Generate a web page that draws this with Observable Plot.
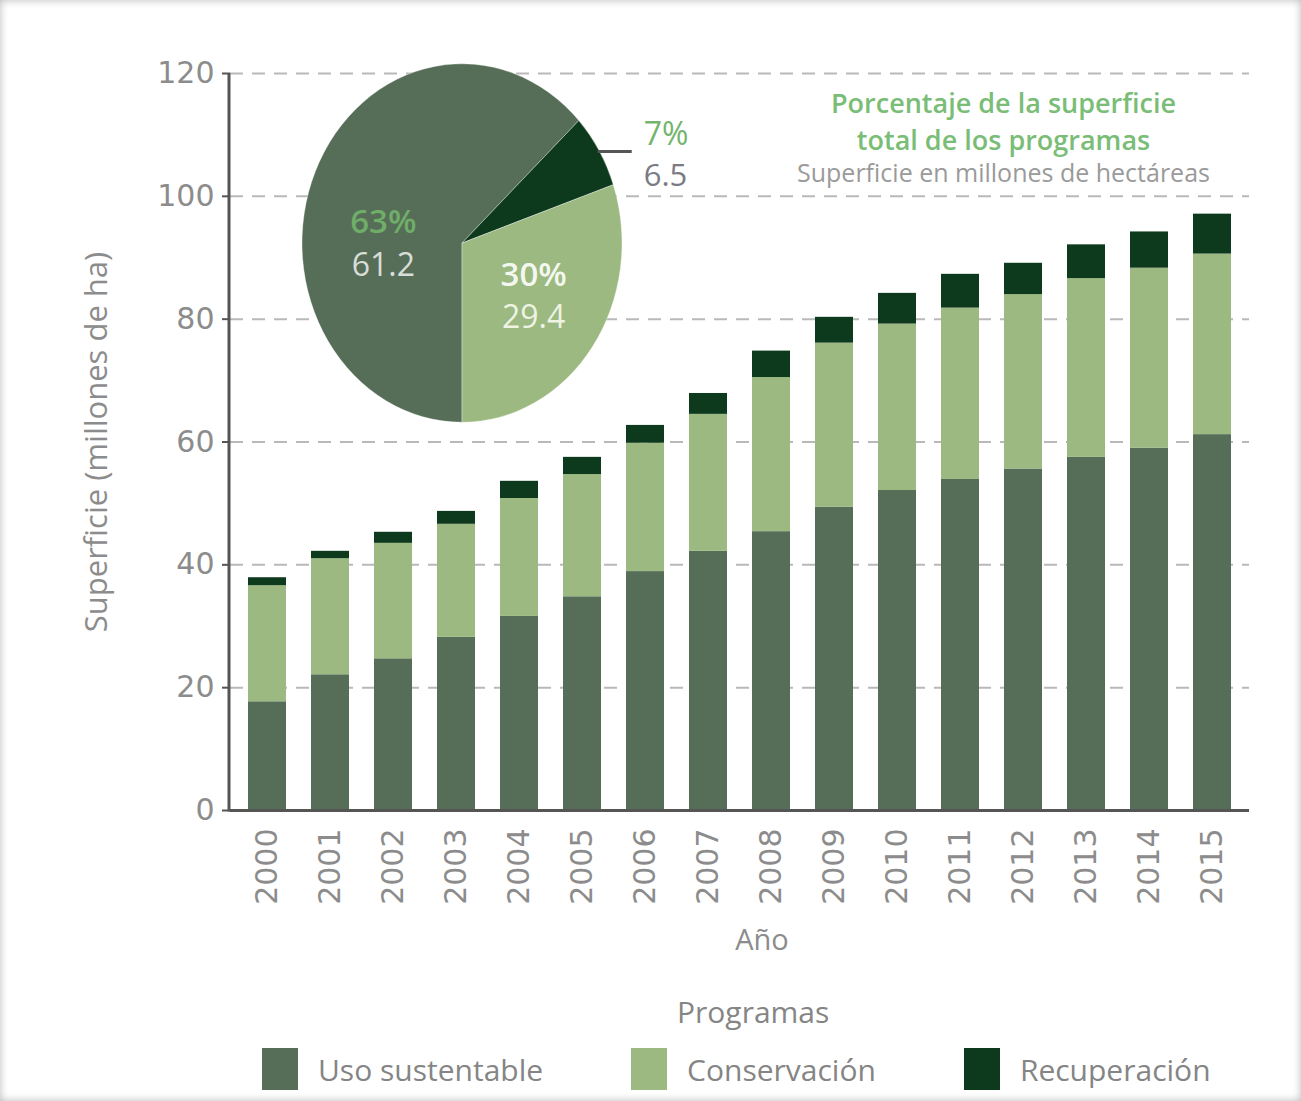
<!DOCTYPE html>
<html>
<head>
<meta charset="utf-8">
<script src="https://cdn.jsdelivr.net/npm/d3@7"></script>
<script src="https://cdn.jsdelivr.net/npm/@observablehq/plot@0.6"></script>
<style>
  html, body { margin: 0; padding: 0; background: #fff; }
  #wrap {
    position: relative; width: 1301px; height: 1101px; overflow: hidden;
    font-family: "Open Sans", sans-serif;
    box-shadow: inset 0 0 9px rgba(0,0,0,0.28);
  }
  #chart { position: absolute; left: 0; top: 0; }
  #legend-title {
    position: absolute; left: 677px; top: 990px;
    font-size: 30px; color: #858585; line-height: 44px;
  }
  #legend {
    position: absolute; left: 262px; top: 1048px; display: flex; gap: 88px;
    align-items: center;
  }
  .item { display: flex; align-items: center; gap: 20px; font-size: 30px; color: #858585; }
  .sw { width: 36px; height: 42px; display: inline-block; }
</style>
</head>
<body>
<div id="wrap">
  <div id="chart"></div>
  <div id="legend-title"></div>
  <div id="legend"></div>
</div>
<script>
// ---- data ----
const years = ["2000","2001","2002","2003","2004","2005","2006","2007","2008","2009","2010","2011","2012","2013","2014","2015"];
const usoSustentable = [17.7, 22.1, 24.7, 28.2, 31.6, 34.8, 38.9, 42.2, 45.4, 49.4, 52.1, 53.9, 55.6, 57.5, 59.0, 61.2];
const conservacion   = [18.9, 18.9, 18.8, 18.4, 19.2, 19.9, 20.9, 22.3, 25.1, 26.7, 27.1, 27.9, 28.4, 29.1, 29.3, 29.4];
const recuperacion   = [1.3, 1.2, 1.8, 2.1, 2.8, 2.8, 2.9, 3.4, 4.3, 4.2, 5.0, 5.5, 5.1, 5.5, 5.9, 6.5];
const programas = ["Uso sustentable", "Conservación", "Recuperación"];
const colores = ["#566d57", "#9bb980", "#0d3a1d"];
const yTicks = [0, 20, 40, 60, 80, 100, 120];
// pie (2015 totals)
const piePrograma = ["Uso sustentable", "Recuperación", "Conservación"];
const pieValor = [61.2, 6.5, 29.4];
const piePorcentaje = ["63%", "7%", "30%"];
const pieTitulo = ["Porcentaje de la superficie", "total de los programas"];
const pieSubtitulo = "Superficie en millones de hectáreas";
const legendTitle = "Programas";

// ---- tidy table ----
const series = [usoSustentable, conservacion, recuperacion];
const table = years.flatMap((yr, i) => programas.map((p, k) => ({year: yr, programa: p, value: series[k][i]})));
const pieData = piePrograma.map((p, i) => ({programa: p, value: pieValor[i], pct: piePorcentaje[i]}));
const colorOf = d3.scaleOrdinal(programas, colores);

// ---- layout constants ----
const W = 1301, H = 990;
const pieCx = 462, pieCy = 243, pieR = 160, pieSy = 1.12;
const textGray = "#8c8c8c";

function axisLineY(index, scales, values, dim) {
  const g = d3.create("svg:g");
  g.append("line")
    .attr("x1", dim.marginLeft - 1).attr("x2", dim.marginLeft - 1)
    .attr("y1", dim.marginTop).attr("y2", dim.height - dim.marginBottom + 1.5)
    .attr("stroke", "#555").attr("stroke-width", 3);
  return g.node();
}

function pieMark(index, scales, values, dim) {
  const g = d3.create("svg:g").attr("transform", `translate(${pieCx},${pieCy})`);
  const slices = d3.pie().sort(null).value(d => d.value)
    .startAngle(Math.PI).endAngle(3 * Math.PI)(pieData);
  const arc = d3.arc().innerRadius(0).outerRadius(pieR);
  const gs = g.append("g").attr("transform", `scale(1,${pieSy})`);
  gs.selectAll("path").data(slices).join("path")
    .attr("d", arc)
    .attr("fill", d => colorOf(d.data.programa))
    .attr("stroke", "#ffffff").attr("stroke-opacity", 0.35).attr("stroke-width", 1)
    .attr("vector-effect", "non-scaling-stroke");
  const ff = "Open Sans, sans-serif";
  slices.forEach(s => {
    const mid = (s.startAngle + s.endAngle) / 2;
    const ux = Math.sin(mid), uy = -Math.cos(mid);
    if (s.data.programa === "Recuperación") {
      const ex = ux * pieR * 0.99, ey = uy * pieR * pieSy * 0.99;
      g.append("line").attr("x1", ex).attr("y1", ey).attr("x2", ex + 34).attr("y2", ey)
        .attr("stroke", "#555").attr("stroke-width", 3);
      g.append("text").attr("x", ex + 46).attr("y", ey - 18).attr("dy", "0.35em").attr("text-anchor", "start")
        .attr("font-family", ff).attr("font-size", 32).attr("fill", "#74b46c").text(s.data.pct);
      g.append("text").attr("x", ex + 46).attr("y", ey + 24).attr("dy", "0.35em").attr("text-anchor", "start")
        .attr("font-family", ff).attr("font-size", 31).attr("fill", "#7b7b85").text(String(s.data.value));
    } else {
      const isUso = s.data.programa === "Uso sustentable";
      const r = pieR * 0.55;
      const lx = ux * r + (isUso ? 2 : 0), ly = uy * r * pieSy + (isUso ? 39 : -5);
      g.append("text").attr("x", lx).attr("y", ly - 21).attr("dy", "0.35em").attr("text-anchor", "middle")
        .attr("font-family", ff).attr("font-size", 33).attr("font-weight", 600)
        .attr("fill", isUso ? "#6fae69" : "#f4f7ef").text(s.data.pct);
      g.append("text").attr("x", lx).attr("y", ly + 22).attr("dy", "0.35em").attr("text-anchor", "middle")
        .attr("font-family", ff).attr("font-size", 32)
        .attr("fill", isUso ? "#d9ddd9" : "#eef3e4").text(String(s.data.value));
    }
  });
  return g.node();
}

const chart = Plot.plot({
  width: W, height: H,
  marginLeft: 230, marginRight: 52, marginTop: 73, marginBottom: 180,
  style: {background: "transparent", fontFamily: "Open Sans, sans-serif", overflow: "visible"},
  x: {domain: years, paddingInner: 0.4, paddingOuter: 0.2, label: null},
  y: {domain: [0, 120], label: null},
  color: {domain: programas, range: colores},
  marks: [
    Plot.ruleY(yTicks.filter(d => d > 0), {stroke: "#b9b9b9", strokeWidth: 2, strokeDasharray: "13,9"}),
    Plot.barY(table, {x: "year", y: "value", fill: "programa", order: programas}),
    Plot.ruleY([0], {stroke: "#555", strokeWidth: 3}),
    axisLineY,
    Plot.axisY({ticks: yTicks, tickSize: 8, tickPadding: 8, strokeWidth: 2, stroke: "#555", fill: textGray,
      fontSize: 30, fontFamily: "DejaVu Sans, sans-serif", label: null}),
    Plot.axisX({tickSize: 0, tickPadding: 18, tickRotate: -90, fill: textGray,
      fontSize: 30, fontFamily: "DejaVu Sans, sans-serif", label: null}),
    Plot.text(["Superficie (millones de ha)"], {frameAnchor: "left", dx: -133, rotate: -90, textAnchor: "middle",
      fontSize: 31, fill: textGray, fontFamily: "Open Sans, sans-serif"}),
    Plot.text(["Año"], {frameAnchor: "bottom", dx: 22, dy: 139, fontSize: 29, fill: textGray}),
    pieMark,
    Plot.text([pieTitulo.join("\n")], {frameAnchor: "top-right", dx: -246, dy: 46, textAnchor: "middle",
      lineAnchor: "middle", lineHeight: 1.37, fontSize: 27, fontWeight: 600, fill: "#79bd76"}),
    Plot.text([pieSubtitulo], {frameAnchor: "top-right", dx: -246, dy: 100, textAnchor: "middle",
      lineAnchor: "middle", fontSize: 25, fill: "#9a9a9a"})
  ]
});
document.getElementById("chart").appendChild(chart);

// ---- legend ----
document.getElementById("legend-title").textContent = legendTitle;
const lg = document.getElementById("legend");
programas.forEach(p => {
  const it = document.createElement("div"); it.className = "item";
  const sw = document.createElement("span"); sw.className = "sw"; sw.style.background = colorOf(p);
  const tx = document.createElement("span"); tx.textContent = p;
  it.appendChild(sw); it.appendChild(tx); lg.appendChild(it);
});
</script>
</body>
</html>
